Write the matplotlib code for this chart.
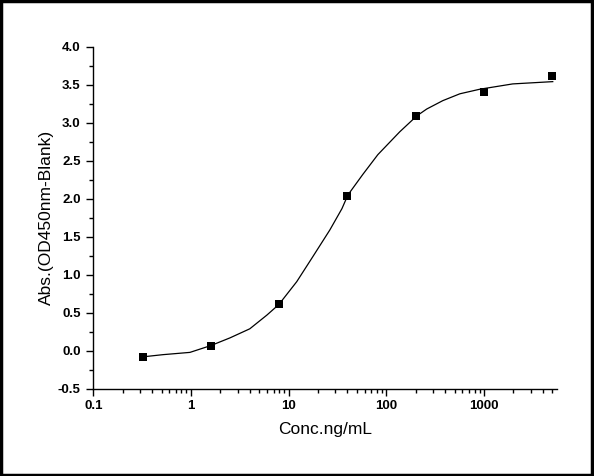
import matplotlib
matplotlib.use("Agg")
import matplotlib.pyplot as plt
from matplotlib.patches import Rectangle
from matplotlib.ticker import MultipleLocator, LogLocator, FixedLocator, FixedFormatter

plt.rcParams['font.family'] = ['Liberation Sans', 'DejaVu Sans']

# measured points (5-fold dilution series)
conc = [0.32, 1.6, 8, 40, 200, 1000, 5000]
absorb = [-0.08, 0.07, 0.61, 2.04, 3.09, 3.40, 3.61]

# fitted curve
curve_x = [0.315, 0.516, 0.976, 1.6, 2.5, 4.0, 5.98, 7.94, 12.1, 17.7, 26.4, 35.1,
           40.4, 57.4, 81.8, 137, 205, 259, 378, 565, 903, 1963, 5047]
curve_y = [-0.08, -0.05, -0.02, 0.07, 0.17, 0.29, 0.47, 0.61, 0.91, 1.24, 1.59, 1.87,
           2.05, 2.32, 2.58, 2.88, 3.09, 3.18, 3.29, 3.38, 3.44, 3.51, 3.54]

x_ticks = [0.1, 1, 10, 100, 1000]
x_ticklabels = ['0.1', '1', '10', '100', '1000']

fig = plt.figure(figsize=(5.94, 4.76), dpi=100)
ax = fig.add_axes([0.157, 0.183, 0.781, 0.719])

ax.plot(curve_x, curve_y, color='black', lw=0.9)
ax.plot(conc, absorb, 's', color='black', ms=5.2, mew=0)

ax.set_xscale('log')
ax.set_xlim(0.1, 5600)
ax.set_ylim(-0.5, 4.0)

ax.xaxis.set_major_locator(FixedLocator(x_ticks))
ax.xaxis.set_major_formatter(FixedFormatter(x_ticklabels))
ax.xaxis.set_minor_locator(LogLocator(base=10, subs=range(2, 10), numticks=20))
ax.yaxis.set_major_locator(MultipleLocator(0.5))
ax.yaxis.set_minor_locator(MultipleLocator(0.25))
ax.yaxis.set_major_formatter(plt.FormatStrFormatter('%.1f'))

for s in ['top', 'right']:
    ax.spines[s].set_visible(False)
for s in ['left', 'bottom']:
    ax.spines[s].set_linewidth(1.0)

ax.tick_params(which='major', direction='out', length=5, width=1, labelsize=9.5, pad=3)
ax.tick_params(which='minor', direction='out', length=3, width=1)
ax.tick_params(axis='y', which='major', pad=4)
for lab in ax.get_xticklabels() + ax.get_yticklabels():
    lab.set_fontweight('bold')

ax.set_xlabel('Conc.ng/mL', fontsize=12.5, labelpad=7)
ax.set_ylabel('Abs.(OD450nm-Blank)', fontsize=12.5, labelpad=3)

fig.patches.append(Rectangle((0.002, 0.003), 0.995, 0.994, transform=fig.transFigure,
                             fill=False, edgecolor='black', lw=2.5))

fig.savefig('out.png', dpi=100)
